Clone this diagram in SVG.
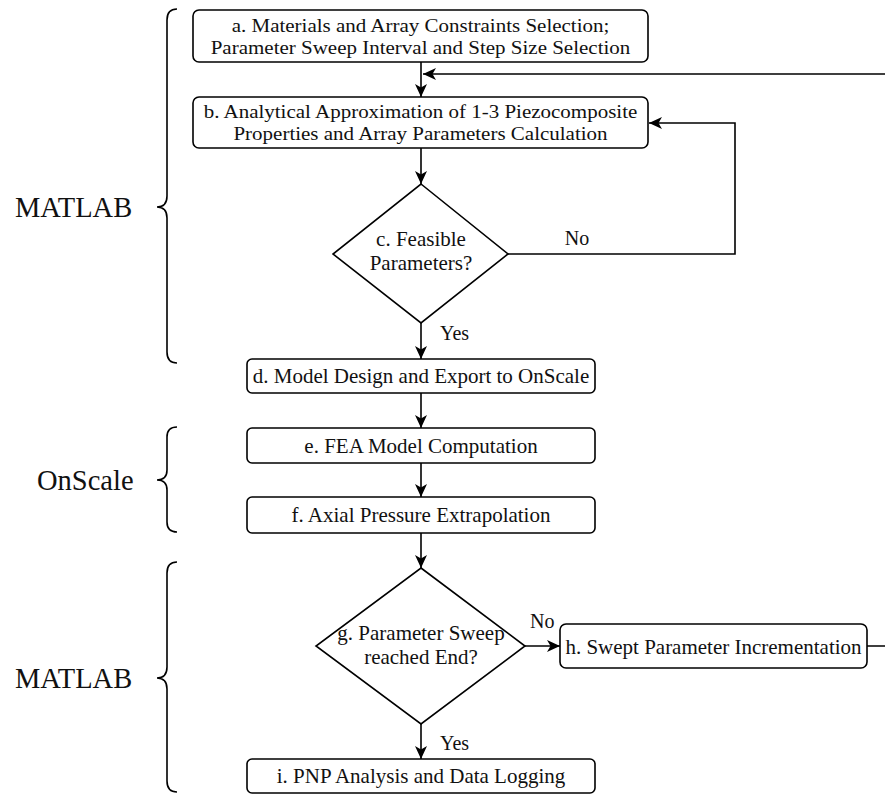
<svg xmlns="http://www.w3.org/2000/svg" width="885" height="794" viewBox="0 0 885 794">
  <style>
    .box { fill: #fff; stroke: #000; stroke-width: 1.6; }
    .wire { fill: none; stroke: #000; stroke-width: 1.6; }
    .brace { fill: none; stroke: #000; stroke-width: 1.6; }
    text { font-family: 'Liberation Serif', 'Times New Roman', serif; fill: #111; }
    .t { font-size: 21px; }
    .t2 { font-size: 19.5px; }
    .lbl { font-size: 20px; }
    .c { text-anchor: middle; }
    .big { font-size: 28.5px; }
  </style>
  <defs>
    <marker id="arrow" markerUnits="userSpaceOnUse" markerWidth="14" markerHeight="12" viewBox="0 0 14 12" refX="13" refY="6" orient="auto">
      <path d="M0,0 L13,6 L0,12 L3.5,6 Z" fill="#000"/>
    </marker>
  </defs>

  <rect width="885" height="794" fill="#fff"/>

  <!-- software brackets -->
  <g id="group-matlab-top">
    <path class="brace" d="M177,9 Q167,9 167,20 L167,196 Q167,207 157,207 Q167,207 167,218 L167,352 Q167,363 177,363"/>
    <text class="big" x="15" y="217">MATLAB</text>
  </g>
  <g id="group-onscale">
    <path class="brace" d="M177,427 Q167,427 167,437 L167,470 Q167,480 157,480 Q167,480 167,490 L167,522 Q167,532 177,532"/>
    <text class="big" x="37" y="490">OnScale</text>
  </g>
  <g id="group-matlab-bottom">
    <path class="brace" d="M177,562 Q167,562 167,573 L167,667 Q167,678 157,678 Q167,678 167,689 L167,781 Q167,792 177,792"/>
    <text class="big" x="15" y="688">MATLAB</text>
  </g>

  <!-- connectors -->
  <g id="connectors">
    <path class="wire" d="M421,62 V97" marker-end="url(#arrow)"/>
    <path class="wire" d="M867,646 H895 V74 H423" marker-end="url(#arrow)"/>
    <path class="wire" d="M421,148 V184" marker-end="url(#arrow)"/>
    <path class="wire" d="M508,254 H735 V123 H649" marker-end="url(#arrow)"/>
    <text class="lbl c" x="577" y="245">No</text>
    <path class="wire" d="M421,323 V359" marker-end="url(#arrow)"/>
    <text class="lbl" x="440" y="340">Yes</text>
    <path class="wire" d="M421,393 V428" marker-end="url(#arrow)"/>
    <path class="wire" d="M421,463 V497" marker-end="url(#arrow)"/>
    <path class="wire" d="M421,533 V568" marker-end="url(#arrow)"/>
    <path class="wire" d="M525,646 H560" marker-end="url(#arrow)"/>
    <text class="lbl" x="530" y="628">No</text>
    <path class="wire" d="M421,724 V759" marker-end="url(#arrow)"/>
    <text class="lbl" x="440" y="750">Yes</text>
  </g>

  <!-- process steps -->
  <g id="node-a">
    <rect class="box" x="193" y="10" width="455" height="52" rx="6"/>
    <text class="t2 c" transform="translate(420.5,32) scale(1.077,1)">a. Materials and Array Constraints Selection;</text>
    <text class="t2 c" transform="translate(420.5,54) scale(1.077,1)">Parameter Sweep Interval and Step Size Selection</text>
  </g>
  <g id="node-b">
    <rect class="box" x="193" y="97" width="455" height="51" rx="6"/>
    <text class="t2 c" transform="translate(420.5,118) scale(1.077,1)">b. Analytical Approximation of 1-3 Piezocomposite</text>
    <text class="t2 c" transform="translate(420.5,140) scale(1.077,1)">Properties and Array Parameters Calculation</text>
  </g>
  <g id="node-c">
    <polygon class="box" points="421,184 508,254 421,323 333,254"/>
    <text class="t c" x="421" y="246">c. Feasible</text>
    <text class="t c" x="421" y="270">Parameters?</text>
  </g>
  <g id="node-d">
    <rect class="box" x="247" y="359" width="348" height="34" rx="5"/>
    <text class="t c" x="421" y="383">d. Model Design and Export to OnScale</text>
  </g>
  <g id="node-e">
    <rect class="box" x="247" y="428" width="348" height="35" rx="5"/>
    <text class="t c" x="421" y="453">e. FEA Model Computation</text>
  </g>
  <g id="node-f">
    <rect class="box" x="247" y="497" width="348" height="36" rx="5"/>
    <text class="t c" x="421" y="522">f. Axial Pressure Extrapolation</text>
  </g>
  <g id="node-g">
    <polygon class="box" points="421,568 525,646 421,724 316,646"/>
    <text class="t c" x="421" y="640">g. Parameter Sweep</text>
    <text class="t c" x="421" y="664">reached End?</text>
  </g>
  <g id="node-h">
    <rect class="box" x="560" y="624" width="307" height="44" rx="6"/>
    <text class="t c" x="713.5" y="654">h. Swept Parameter Incrementation</text>
  </g>
  <g id="node-i">
    <rect class="box" x="247" y="759" width="348" height="34" rx="5"/>
    <text class="t c" x="421" y="783">i. PNP Analysis and Data Logging</text>
  </g>
</svg>
